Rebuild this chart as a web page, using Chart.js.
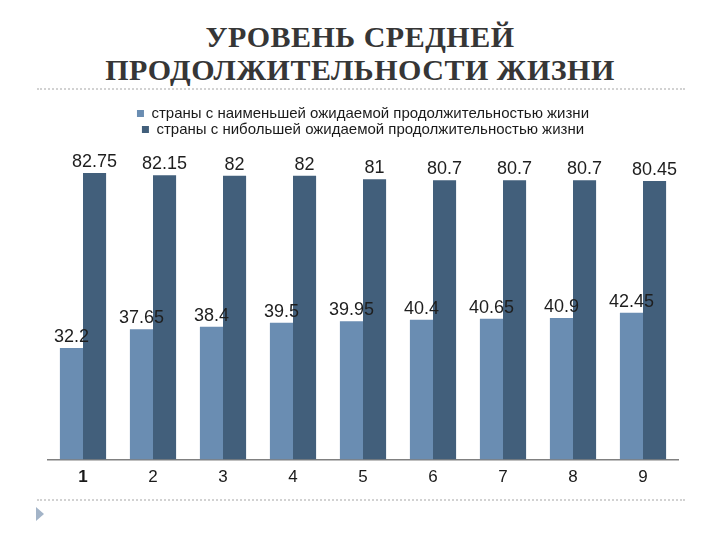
<!DOCTYPE html>
<html>
<head>
<meta charset="utf-8">
<script src="https://cdn.jsdelivr.net/npm/chart.js@4.4.0/dist/chart.umd.min.js"></script>
<style>
    body { margin: 0; width: 720px; height: 540px; background: #fff; position: relative; overflow: hidden; }
    .title { position: absolute; left: 0; top: 20px; width: 720px; text-align: center;
             font-family: "Liberation Serif", serif; font-weight: bold; font-size: 30px;
             line-height: 33px; color: #363636; letter-spacing: 0.5px; }
    .rule { position: absolute; left: 37px; width: 648px; border-top: 2px dotted #d2d2d2; }
    .arrow { position: absolute; left: 36px; top: 507px; width: 0; height: 0;
             border-left: 8px solid #a3b4c8; border-top: 7px solid transparent; border-bottom: 7px solid transparent; }
    .chart-box { position: absolute; left: 0; top: 95px; width: 720px; height: 393px; }
</style>
</head>
<body>
<div class="title">УРОВЕНЬ СРЕДНЕЙ<br>ПРОДОЛЖИТЕЛЬНОСТИ ЖИЗНИ</div>
<div class="rule" style="top:88px"></div>
<div class="chart-box"><canvas id="lifeChart"></canvas></div>
<div class="rule" style="top:499px"></div>
<div class="arrow"></div>

<script>
// Data
const categories = ['1', '2', '3', '4', '5', '6', '7', '8', '9'];
const lowestLife = [32.2, 37.65, 38.4, 39.5, 39.95, 40.4, 40.65, 40.9, 42.45];
const highestLife = [82.75, 82.15, 82, 82, 81, 80.7, 80.7, 80.7, 80.45];
const seriesNames = [
    'страны с наименьшей ожидаемой продолжительностью жизни',
    'страны с нибольшей ожидаемой продолжительностью жизни'
];

// value labels above the bars
const valueLabels = {
    id: 'valueLabels',
    afterDatasetsDraw(chart) {
        const ctx = chart.ctx;
        ctx.save();
        ctx.font = '18px "Liberation Sans", Arial, sans-serif';
        ctx.fillStyle = '#1e1e1e';
        ctx.textAlign = 'center';
        ctx.textBaseline = 'bottom';
        chart.data.datasets.forEach((ds, i) => {
            chart.getDatasetMeta(i).data.forEach((bar, j) => {
                ctx.fillText(String(ds.data[j]), bar.x, bar.y - 2);
            });
        });
        ctx.restore();
    }
};

// fixed room for the legend
const legendSpace = {
    id: 'legendSpace',
    beforeInit(chart) {
        const origFit = chart.legend.fit;
        chart.legend.fit = function () {
            origFit.call(this);
            this.height = 43;
        };
    }
};

new Chart(document.getElementById('lifeChart'), {
    type: 'bar',
    data: {
        labels: categories,
        datasets: [
            {
                label: seriesNames[0],
                data: lowestLife,
                backgroundColor: '#6a8db2'
            },
            {
                label: seriesNames[1],
                data: highestLife,
                backgroundColor: '#425f7b'
            }
        ]
    },
    options: {
        responsive: true,
        maintainAspectRatio: false,
        animation: false,
        layout: {
            padding: { left: 48, right: 42, top: 10, bottom: 0 }
        },
        datasets: {
            bar: { categoryPercentage: 0.66, barPercentage: 1.0 }
        },
        scales: {
            x: {
                grid: { display: false },
                border: { color: '#808080', width: 1.5 },
                ticks: {
                    color: '#1a1a1a',
                    padding: 0,
                    font: (c) => ({
                        family: '"Liberation Sans", Arial, sans-serif',
                        size: 17,
                        weight: c.index === 0 ? 'bold' : 'normal'
                    })
                }
            },
            y: {
                display: false,
                min: 0,
                max: 90
            }
        },
        plugins: {
            legend: {
                position: 'top',
                labels: {
                    boxWidth: 7,
                    boxHeight: 7,
                    padding: 1,
                    color: '#1a1a1a',
                    font: { family: '"Liberation Sans", Arial, sans-serif', size: 15 }
                }
            },
            tooltip: { enabled: false }
        }
    },
    plugins: [valueLabels, legendSpace]
});
</script>
</body>
</html>
